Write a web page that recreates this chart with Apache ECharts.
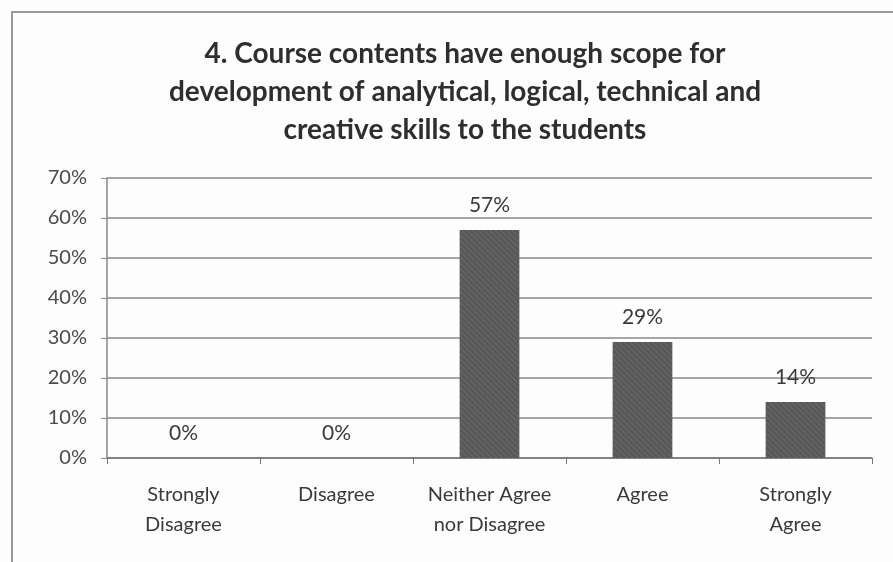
<!DOCTYPE html>
<html><head><meta charset="utf-8">
<script src="https://cdn.jsdelivr.net/npm/echarts@6/dist/echarts.min.js"></script>
<style>html,body{margin:0;padding:0;background:#fff}#c{width:893px;height:562px}</style>
</head><body><div id="c"></div>
<script>
const titleText = "4. Course contents have enough scope for\ndevelopment of analytical, logical, technical and\ncreative skills to the students";
const categories = ["Strongly\nDisagree", "Disagree", "Neither Agree\nnor Disagree", "Agree", "Strongly\nAgree"];
const values = [0, 0, 57, 29, 14];
const yTicks = [0, 10, 20, 30, 40, 50, 60, 70];

const chart = echarts.init(document.getElementById('c'), null, {renderer: 'canvas'});
chart.setOption({
  animation: false,
  backgroundColor: '#fdfdfd',
  title: {
    text: titleText, left: 460, top: 30, textAlign: 'center',
    textStyle: {fontFamily: 'Lato', fontWeight: 'bold', fontSize: 28, lineHeight: 38, color: '#2e2e2e'}
  },
  graphic: [{type: 'rect', shape: {x: 12, y: 12, width: 900, height: 560},
    style: {fill: 'none', stroke: '#999', lineWidth: 2}, silent: true}],
  grid: {left: 107, right: 21, top: 178, bottom: 104},
  xAxis: {
    type: 'category', data: categories,
    axisLine: {lineStyle: {color: '#777', width: 1.5}},
    axisTick: {show: true, length: 6, lineStyle: {color: '#777'}},
    axisLabel: {interval: 0, fontFamily: 'Lato', fontSize: 20, color: '#3a3a3a', lineHeight: 30, margin: 22}
  },
  yAxis: {
    type: 'value', min: yTicks[0], max: yTicks[yTicks.length - 1], interval: 10,
    axisLine: {show: true, lineStyle: {color: '#888', width: 1.5}},
    axisTick: {show: true, length: 6, lineStyle: {color: '#888'}},
    splitLine: {lineStyle: {color: '#888', width: 1.5}},
    axisLabel: {fontFamily: 'Lato', fontSize: 20, color: '#4a4a4a', margin: 20, formatter: v => v + '%'}
  },
  series: [{
    type: 'bar', data: values, barWidth: '39%',
    itemStyle: {color: '#585858', borderWidth: 0,
      decal: {symbol: 'rect', dashArrayX: [1, 0], dashArrayY: [1, 3], rotation: Math.PI / 4, color: 'rgba(120,120,120,0.5)'}},
    label: {show: true, position: 'top', distance: 14, fontFamily: 'Lato', fontSize: 21, color: '#3a3a3a', formatter: p => p.value + '%'}
  }]
});
</script></body></html>
